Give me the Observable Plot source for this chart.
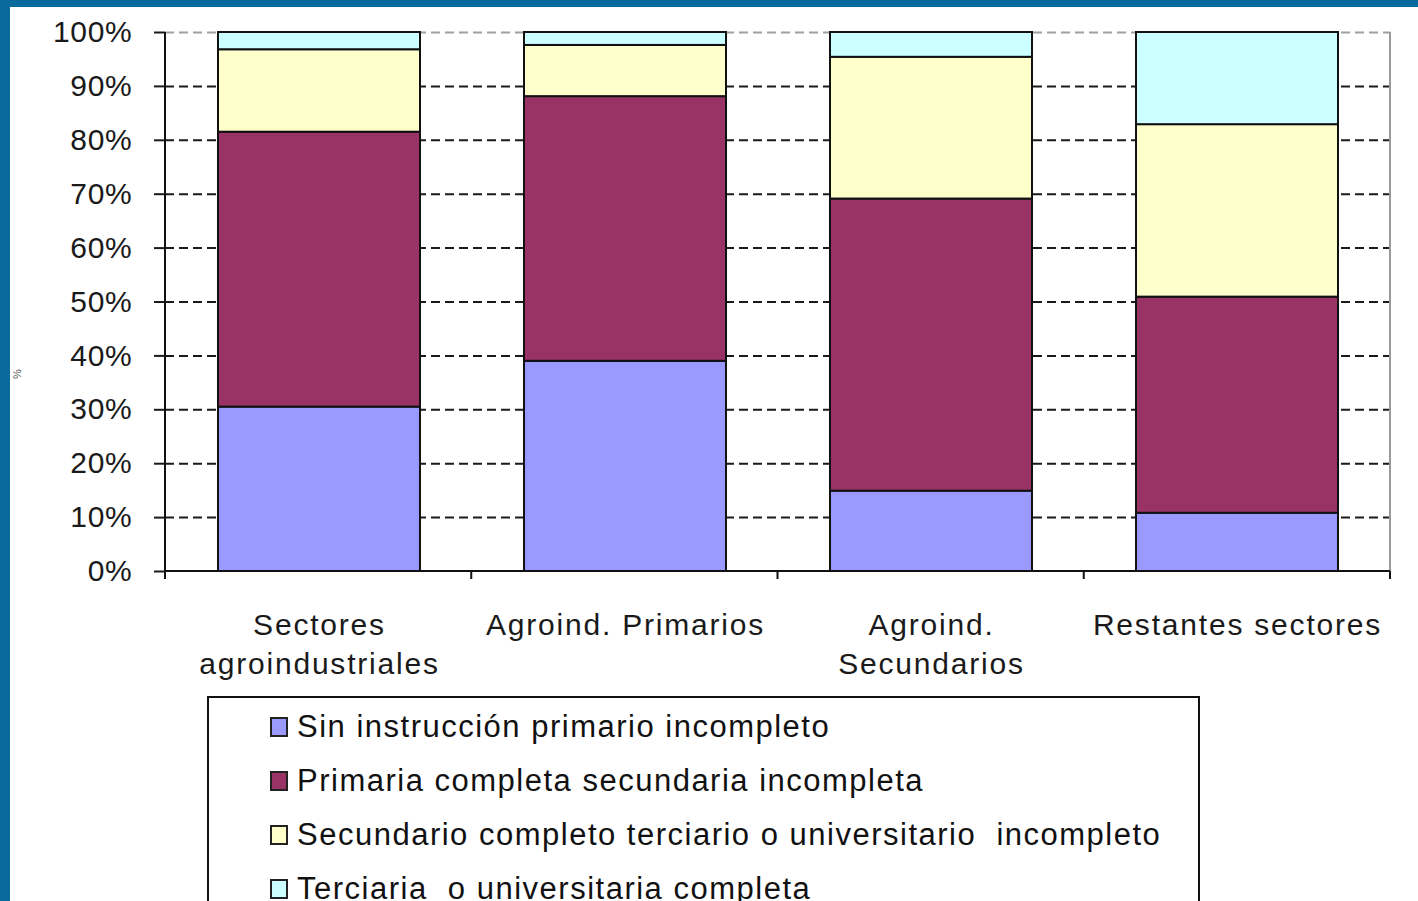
<!DOCTYPE html>
<html>
<head>
<meta charset="utf-8">
<script src="https://cdn.jsdelivr.net/npm/d3@7"></script>
<script src="https://cdn.jsdelivr.net/npm/@observablehq/plot@0.6"></script>
<style>
  html, body { margin: 0; padding: 0; background: #fff; }
  body { width: 1418px; height: 901px; overflow: hidden; position: relative; font-family: "Liberation Sans", Arial, sans-serif; }
  .band-top { position: absolute; left: 0; top: 0; width: 1418px; height: 7px; background: #0b6a9d; z-index: 5; }
  .band-left { position: absolute; left: 0; top: 0; width: 10px; height: 901px; background: #0b6a9d; z-index: 5; }
  #chart { position: absolute; left: 10px; top: 7px; }
  #chart svg { overflow: visible; }
  g[aria-label="y-axis tick label"] { letter-spacing: 0.7px; }
  g[aria-label="x-axis tick label"] { letter-spacing: 1.8px; }
  #ylabel { position: absolute; left: 10px; top: 368px; font-size: 11px; color: #555; transform: rotate(-90deg); transform-origin: center; width: 14px; text-align: center; }
  #legend { position: absolute; left: 207px; top: 696px; width: 989px; height: 260px; border: 2px solid #111; box-sizing: content-box; padding-top: 2px; }
  .item { display: flex; align-items: center; height: 54px; padding-left: 61px; font-size: 31px; letter-spacing: 1.5px; color: #111; white-space: pre; }
  .sw { width: 14px; height: 16px; border: 2px solid #222; margin-right: 9px; flex: none; }
</style>
</head>
<body>
<div class="band-top"></div>
<div class="band-left"></div>
<div id="chart"></div>
<div id="ylabel">%</div>
<div id="legend"></div>
<script>
// ---- Data ----
const categories = ["Sectores\nagroindustriales", "Agroind. Primarios", "Agroind.\nSecundarios", "Restantes sectores"];
const levels = [
  "Sin instrucción primario incompleto",
  "Primaria completa secundaria incompleta",
  "Secundario completo terciario o universitario  incompleto",
  "Terciaria  o universitaria completa"
];
const colors = ["#9999ff", "#993366", "#ffffcc", "#ccffff"];
const sinInstruccion     = [30.5, 39.0, 14.9, 10.8];
const primariaCompleta   = [51.0, 49.1, 54.2, 40.1];
const secundarioCompleto = [15.3,  9.5, 26.3, 32.0];
const terciariaCompleta  = [ 3.2,  2.4,  4.6, 17.1];
const yTicks = [0, 10, 20, 30, 40, 50, 60, 70, 80, 90, 100];

const series = [sinInstruccion, primariaCompleta, secundarioCompleto, terciariaCompleta];
const rows = [];
levels.forEach((lev, i) => categories.forEach((cat, j) => rows.push({cat, level: lev, value: series[i][j]})));

function frameLines(index, scales, values, dims) {
  const {width, height, marginLeft, marginRight, marginTop, marginBottom} = dims;
  const x0 = marginLeft, x1 = width - marginRight, yb = height - marginBottom, yt = scales.y(100);
  const n = categories.length;
  const g = d3.create("svg:g");
  g.append("line").attr("x1", x1).attr("x2", x1).attr("y1", yt).attr("y2", yb)
    .attr("stroke", "#9a9a9a").attr("stroke-width", 2);
  g.append("line").attr("x1", x0).attr("x2", x0).attr("y1", yt).attr("y2", yb)
    .attr("stroke", "#111").attr("stroke-width", 2);
  g.append("line").attr("x1", x0).attr("x2", x1).attr("y1", yb).attr("y2", yb)
    .attr("stroke", "#111").attr("stroke-width", 2);
  for (let i = 0; i <= n; i++) {
    const x = x0 + i * (x1 - x0) / n;
    g.append("line").attr("x1", x).attr("x2", x).attr("y1", yb).attr("y2", yb + 8)
      .attr("stroke", "#111").attr("stroke-width", 2);
  }
  return g.node();
}

const plot = Plot.plot({
  width: 1408,
  height: 680,
  marginLeft: 155,
  marginRight: 28,
  marginTop: 25,
  marginBottom: 116,
  style: {fontFamily: '"Liberation Sans", Arial, sans-serif', color: "#1a1a1a", background: "transparent"},
  x: {domain: categories, paddingInner: 0.34, paddingOuter: 0.17, axis: null},
  y: {domain: [0, 100], axis: null},
  color: {domain: levels, range: colors},
  marks: [
    Plot.gridY(yTicks.filter(d => d > 0 && d < 100), {stroke: "#1a1a1a", strokeOpacity: 1, strokeWidth: 2, strokeDasharray: "9,5"}),
    Plot.gridY([100], {stroke: "#a0a0a0", strokeOpacity: 1, strokeWidth: 2, strokeDasharray: "9,5"}),
    Plot.barY(rows, Plot.stackY({order: levels}, {x: "cat", y: "value", z: "level", fill: "level", stroke: "#111", strokeWidth: 2})),
    frameLines,
    Plot.axisY({ticks: yTicks, tickFormat: d => d + "%", tickSize: 11, tickPadding: 22, fontSize: 30, strokeWidth: 2, label: null}),
    Plot.axisX({tickSize: 0, tickPadding: 36, fontSize: 30, lineHeight: 1.3, label: null})
  ]
});
document.getElementById("chart").appendChild(plot);

// Legend
const legend = d3.select("#legend");
levels.forEach((lev, i) => {
  const it = legend.append("div").attr("class", "item");
  it.append("div").attr("class", "sw").style("background", colors[i]);
  it.append("span").text(lev);
});
</script>
</body>
</html>
